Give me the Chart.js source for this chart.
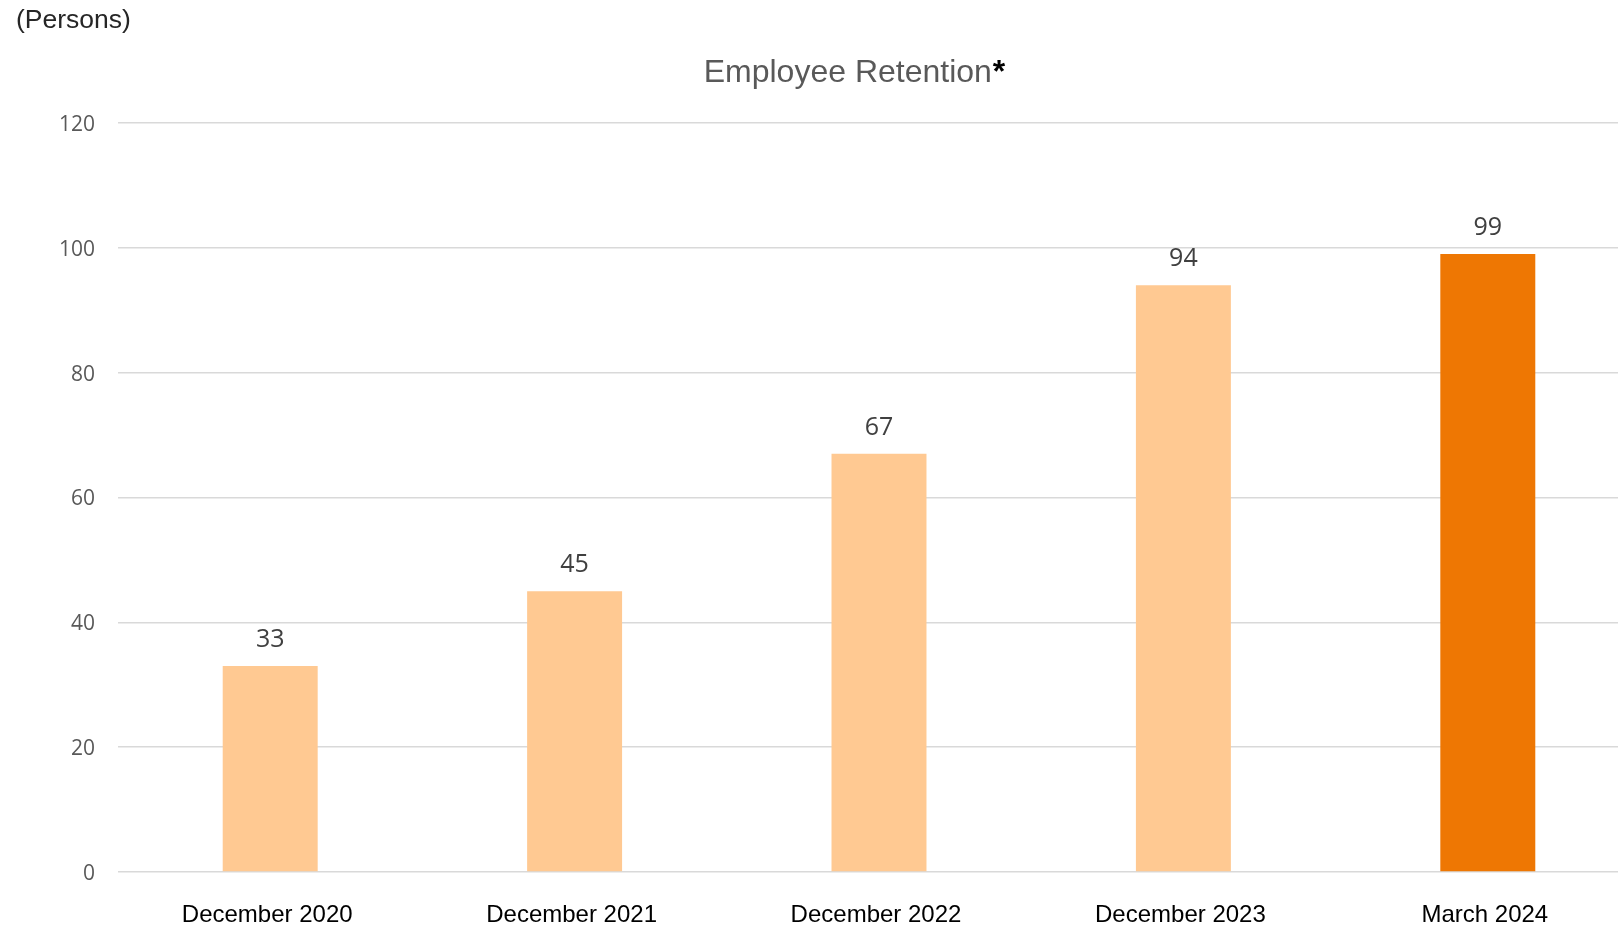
<!DOCTYPE html>
<html>
<head>
<meta charset="utf-8">
<title>Employee Retention</title>
<script src="https://cdn.jsdelivr.net/npm/chart.js@4.4.1/dist/chart.umd.min.js"></script>
<style>
  html, body { margin: 0; padding: 0; background: #ffffff; overflow: hidden; }
  #retentionChart { display: block; }
</style>
</head>
<body>
<!-- plot runs a little past the right edge of the window -->
<canvas id="retentionChart" width="1640" height="925"></canvas>
<script>
const periods = ['December 2020', 'December 2021', 'December 2022', 'December 2023', 'March 2024'];
const headcount = [33, 45, 67, 94, 99];
const barColors = ['#FFC992', '#FFC992', '#FFC992', '#FFC992', '#EE7703'];
const yTicks = [0, 20, 40, 60, 80, 100, 120];

// unit caption top-left and the two-colour title
const headerPlugin = {
    id: 'header',
    afterDraw(chart) {
        const ctx = chart.ctx;
        ctx.save();
        ctx.textBaseline = 'alphabetic';
        ctx.textAlign = 'left';

        ctx.font = '26.5px "Liberation Sans", Arial, sans-serif';
        ctx.fillStyle = '#262626';
        ctx.fillText('(Persons)', 16, 28);

        const main = 'Employee Retention';
        ctx.font = '32px "Liberation Sans", Arial, sans-serif';
        const mainWidth = ctx.measureText(main).width;
        ctx.font = 'bold 32px "Liberation Sans", Arial, sans-serif';
        const starWidth = ctx.measureText('*').width;
        const center = 854;
        const x = center - (mainWidth + starWidth) / 2;

        ctx.font = '32px "Liberation Sans", Arial, sans-serif';
        ctx.fillStyle = '#595959';
        ctx.fillText(main, x, 82);
        ctx.font = 'bold 32px "Liberation Sans", Arial, sans-serif';
        ctx.fillStyle = '#000000';
        ctx.fillText('*', x + mainWidth + 1, 82);
        ctx.restore();
    }
};

// value above each bar
const valueLabels = {
    id: 'valueLabels',
    afterDatasetsDraw(chart) {
        const ctx = chart.ctx;
        const meta = chart.getDatasetMeta(0);
        ctx.save();
        ctx.font = '25px "Open Sans", sans-serif';
        ctx.fillStyle = '#404040';
        ctx.textAlign = 'center';
        ctx.textBaseline = 'middle';
        meta.data.forEach((bar, i) => {
            ctx.fillText(String(chart.data.datasets[0].data[i]), bar.x, bar.y - 26);
        });
        ctx.restore();
    }
};

const ctx = document.getElementById('retentionChart').getContext('2d');
const retentionChart = new Chart(ctx, {
    type: 'bar',
    data: {
        labels: periods,
        datasets: [{
            label: 'Employees',
            data: headcount,
            backgroundColor: barColors,
            borderWidth: 0,
            categoryPercentage: 1,
            barPercentage: 0.312
        }]
    },
    options: {
        responsive: false,
        animation: false,
        layout: { padding: { top: 123, right: 0, left: 0, bottom: 0 } },
        plugins: {
            legend: { display: false },
            title: { display: false },
            tooltip: { enabled: false }
        },
        scales: {
            x: {
                grid: { display: false, drawTicks: false },
                border: { display: false },
                ticks: {
                    color: '#000000',
                    font: { family: '"Liberation Sans", Arial, sans-serif', size: 24 },
                    padding: 29,
                    labelOffset: -3,
                    maxRotation: 0,
                    autoSkip: false
                },
                afterFit(scale) { scale.height = 53; }
            },
            y: {
                min: 0,
                max: 120,
                afterBuildTicks(scale) {
                    scale.ticks = yTicks.map(v => ({ value: v }));
                },
                grid: {
                    color: '#D9D9D9',
                    lineWidth: 1.5,
                    drawTicks: false
                },
                border: { display: false },
                ticks: {
                    color: '#595959',
                    font: { family: '"Open Sans", sans-serif', size: 21 },
                    padding: 23,
                    labelOffset: 2
                },
                afterFit(scale) { scale.width = 118; }
            }
        }
    },
    plugins: [headerPlugin, valueLabels]
});
</script>
</body>
</html>
